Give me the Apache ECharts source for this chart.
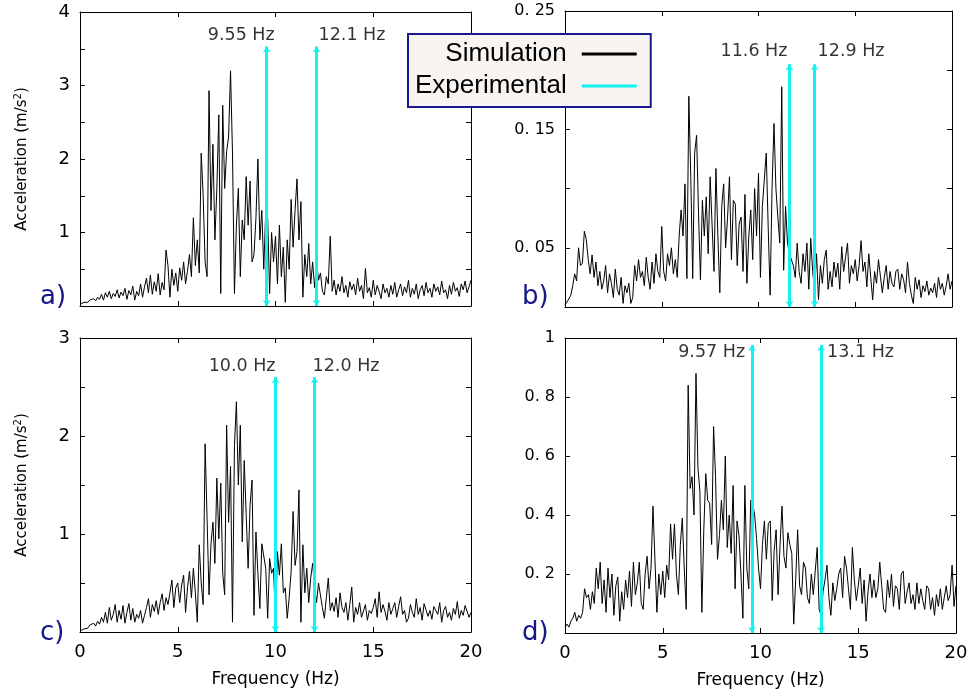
<!DOCTYPE html>
<html><head><meta charset="utf-8">
<script src="https://cdn.jsdelivr.net/npm/echarts@6/dist/echarts.min.js"></script>
<style>html,body{margin:0;padding:0;background:#fff}#c{width:972px;height:694px}</style>
</head><body><div id="c"></div>
<script>
// ---------------- DATA ----------------
const freqStepHz = 0.1; // spectra sampled from 0 to 20 Hz
const simA = [
0.02,0.04,0.05,0.06,0.05,0.08,0.06,0.10,0.07,0.12,
0.09,0.16,0.08,0.18,0.12,0.20,0.10,0.17,0.13,0.22,
0.11,0.19,0.14,0.24,0.09,0.21,0.15,0.27,0.08,0.20,
0.14,0.30,0.12,0.26,0.38,0.18,0.42,0.16,0.33,0.20,
0.44,0.15,0.32,0.22,0.76,0.55,0.12,0.50,0.28,0.45,
0.20,0.52,0.35,0.60,0.30,0.48,0.70,0.40,1.20,0.55,
0.90,0.45,2.08,1.50,0.60,0.40,2.93,1.30,2.20,0.90,
1.60,2.60,0.17,2.73,1.60,2.10,2.30,3.20,2.08,0.17,
1.10,1.60,0.40,1.17,0.90,1.76,1.10,1.70,0.60,0.70,
1.20,2.00,0.90,1.30,0.50,1.29,1.20,0.17,1.00,0.60,
0.95,0.30,1.10,0.40,0.80,0.05,0.90,0.50,1.45,0.80,
1.30,1.73,0.90,1.42,0.12,0.70,0.40,0.85,0.30,0.60,
0.25,0.60,0.35,0.45,0.20,0.15,0.40,0.30,0.95,0.20,
0.35,0.15,0.30,0.20,0.40,0.18,0.28,0.12,0.33,0.22,
0.30,0.15,0.38,0.20,0.28,0.10,0.51,0.18,0.25,0.12,
0.35,0.15,0.28,0.20,0.10,0.30,0.18,0.24,0.12,0.28,
0.16,0.32,0.12,0.22,0.30,0.14,0.26,0.18,0.35,0.12,
0.24,0.16,0.30,0.10,0.22,0.28,0.14,0.32,0.18,0.24,
0.12,0.30,0.20,0.26,0.15,0.34,0.18,0.22,0.10,0.28,
0.16,0.32,0.20,0.25,0.13,0.30,0.22,0.34,0.18,0.26,
0.35];
const simB = [
0.002,0.004,0.003,0.010,0.018,0.028,0.022,0.050,0.035,0.037,
0.064,0.057,0.040,0.028,0.044,0.025,0.038,0.018,0.030,0.015,
0.022,0.035,0.012,0.028,0.020,0.008,0.032,0.015,0.010,0.025,
0.003,0.018,0.012,0.020,0.003,0.008,0.035,0.022,0.040,0.025,
0.030,0.018,0.042,0.025,0.015,0.038,0.020,0.045,0.030,0.025,
0.068,0.030,0.022,0.045,0.035,0.050,0.028,0.040,0.025,0.060,
0.082,0.060,0.104,0.024,0.178,0.110,0.024,0.130,0.145,0.080,
0.023,0.090,0.060,0.093,0.045,0.110,0.070,0.030,0.117,0.060,
0.012,0.085,0.104,0.050,0.075,0.110,0.040,0.090,0.087,0.035,
0.070,0.076,0.030,0.095,0.020,0.060,0.082,0.040,0.100,0.060,
0.113,0.025,0.085,0.085,0.130,0.068,0.010,0.100,0.155,0.100,
0.076,0.054,0.186,0.031,0.085,0.054,0.045,0.046,0.035,0.025,
0.054,0.030,0.020,0.045,0.030,0.054,0.015,0.058,0.030,0.014,
0.045,0.006,0.035,0.020,0.040,0.048,0.015,0.030,0.017,0.038,
0.025,0.037,0.015,0.051,0.030,0.042,0.054,0.020,0.035,0.028,
0.040,0.022,0.035,0.056,0.030,0.038,0.017,0.045,0.025,0.006,
0.030,0.020,0.040,0.026,0.012,0.025,0.035,0.015,0.030,0.020,
0.017,0.030,0.032,0.015,0.028,0.023,0.012,0.038,0.020,0.010,
0.003,0.025,0.015,0.023,0.008,0.018,0.013,0.022,0.010,0.016,
0.012,0.020,0.008,0.025,0.015,0.020,0.010,0.018,0.028,0.015,
0.022];
const simC = [
0.01,0.02,0.03,0.05,0.04,0.07,0.05,0.09,0.06,0.11,
0.08,0.15,0.10,0.20,0.09,0.25,0.12,0.18,0.28,0.10,
0.22,0.13,0.27,0.09,0.20,0.29,0.12,0.24,0.10,0.18,
0.14,0.22,0.09,0.17,0.25,0.34,0.15,0.28,0.21,0.32,
0.18,0.30,0.39,0.22,0.35,0.28,0.40,0.53,0.25,0.45,
0.50,0.30,0.48,0.58,0.20,0.45,0.62,0.35,0.65,0.40,
0.10,0.89,0.50,0.28,1.92,1.16,0.38,0.90,1.12,0.70,
1.57,0.95,1.52,0.60,0.38,2.11,1.12,1.69,0.10,1.90,
2.35,1.50,2.11,0.92,1.75,1.20,0.65,1.30,1.55,0.17,
1.02,0.60,0.24,0.90,0.92,0.65,0.14,0.75,0.60,0.65,
0.10,0.82,0.58,0.90,0.40,0.45,0.14,0.35,0.62,1.23,
0.68,0.82,1.45,0.10,0.89,0.40,0.65,0.30,0.55,0.70,
0.45,0.30,0.50,0.50,0.25,0.14,0.35,0.55,0.22,0.30,
0.21,0.35,0.15,0.40,0.25,0.20,0.30,0.12,0.28,0.46,
0.10,0.25,0.18,0.30,0.15,0.17,0.28,0.12,0.22,0.19,
0.25,0.34,0.15,0.41,0.20,0.28,0.21,0.12,0.30,0.18,
0.24,0.30,0.15,0.26,0.36,0.18,0.22,0.10,0.14,0.28,
0.20,0.15,0.34,0.18,0.25,0.12,0.29,0.27,0.16,0.22,
0.13,0.26,0.24,0.18,0.30,0.10,0.22,0.26,0.15,0.20,
0.12,0.24,0.18,0.31,0.14,0.22,0.17,0.27,0.28,0.15,
0.20];
const simD = [
0.02,0.03,0.02,0.04,0.05,0.07,0.04,0.06,0.05,0.07,
0.15,0.12,0.13,0.08,0.14,0.10,0.22,0.15,0.24,0.10,
0.18,0.07,0.22,0.12,0.20,0.06,0.16,0.19,0.04,0.14,
0.08,0.18,0.12,0.21,0.09,0.24,0.13,0.17,0.24,0.10,
0.08,0.20,0.26,0.15,0.22,0.43,0.25,0.07,0.20,0.13,
0.21,0.12,0.23,0.18,0.37,0.25,0.37,0.20,0.13,0.30,
0.39,0.22,0.08,0.84,0.49,0.53,0.40,0.88,0.56,0.48,
0.07,0.35,0.54,0.45,0.44,0.30,0.70,0.53,0.25,0.33,
0.45,0.35,0.60,0.29,0.40,0.27,0.50,0.15,0.38,0.33,
0.20,0.05,0.50,0.22,0.15,0.45,0.44,0.40,0.32,0.22,
0.15,0.30,0.38,0.25,0.37,0.38,0.11,0.28,0.35,0.13,
0.30,0.43,0.26,0.22,0.34,0.30,0.27,0.03,0.18,0.35,
0.16,0.13,0.24,0.22,0.12,0.10,0.20,0.13,0.21,0.29,
0.08,0.06,0.14,0.18,0.23,0.12,0.06,0.17,0.11,0.15,
0.20,0.22,0.12,0.26,0.22,0.15,0.08,0.29,0.18,0.11,
0.16,0.22,0.10,0.18,0.04,0.14,0.20,0.12,0.18,0.12,
0.15,0.24,0.16,0.08,0.07,0.18,0.12,0.20,0.09,0.16,
0.15,0.08,0.20,0.21,0.10,0.14,0.17,0.10,0.13,0.08,
0.17,0.10,0.15,0.11,0.08,0.16,0.15,0.08,0.12,0.06,
0.13,0.09,0.15,0.08,0.12,0.16,0.11,0.13,0.23,0.09,
0.16];

const expFreqA = [9.55, 12.1];
const expFreqB = [11.6, 12.9];
const expFreqC = [10.0, 12.0];
const expFreqD = [9.57, 13.1];
const expLabelA = ['9.55 Hz', '12.1 Hz'];
const expLabelB = ['11.6 Hz', '12.9 Hz'];
const expLabelC = ['10.0 Hz', '12.0 Hz'];
const expLabelD = ['9.57 Hz', '13.1 Hz'];
const expTop = [3.53, 0.205, 2.6, 0.976];   // height reached by the arrows in each panel

const xTickVals = [0, 5, 10, 15, 20];
const xTickLabels = ['0', '5', '10', '15', '20'];
const yTickValsA = [1, 2, 3, 4];           const yTickLabelsA = ['1', '2', '3', '4'];
const yTickValsB = [0.05, 0.15, 0.25];     const yTickLabelsB = ['0. 05', '0. 15', '0. 25'];
const yTickValsC = [1, 2, 3];              const yTickLabelsC = ['1', '2', '3'];
const yTickValsD = [0.2, 0.4, 0.6, 0.8, 1];const yTickLabelsD = ['0. 2', '0. 4', '0. 6', '0. 8', '1'];
const yRange = [[0, 4, 0.5], [0, 0.25, 0.05], [0, 3, 0.5], [0, 1, 0.2]];
const panelLetters = ['a)', 'b)', 'c)', 'd)'];

// ---------------- LAYOUT / STYLE ----------------
const FONT = 'DejaVu Sans';
const CYAN = '#12f2f2';
const grids = [
  {left: 80,  top: 12,  width: 391, height: 294},
  {left: 565, top: 11,  width: 387, height: 296},
  {left: 80,  top: 338, width: 391, height: 294},
  {left: 565, top: 338, width: 391, height: 295}
];
const yLabelSize = [18, 16, 18, 16];
const labelLayout = [
  [{align: 'right', offset: [8, -11]},  {align: 'left', offset: [2, -11]}],
  [{align: 'right', offset: [-2, -13]}, {align: 'left', offset: [3, -13]}],
  [{align: 'right', offset: [0, -11]},  {align: 'left', offset: [-2, -11]}],
  [{align: 'right', offset: [-7, 7]},   {align: 'left', offset: [6, 7]}]
];
const letterPos = [[40, 297], [522, 297], [40, 633], [522, 633]];

const sims = [simA, simB, simC, simD];
const expFreqs = [expFreqA, expFreqB, expFreqC, expFreqD];
const expLabels = [expLabelA, expLabelB, expLabelC, expLabelD];
const yTickVals = [yTickValsA, yTickValsB, yTickValsC, yTickValsD];
const yTickLabels = [yTickLabelsA, yTickLabelsB, yTickLabelsC, yTickLabelsD];

function lookup(vals, labels, v) {
  for (let i = 0; i < vals.length; i++) if (Math.abs(vals[i] - v) < 1e-9) return labels[i];
  return '';
}

const xAxes = [], yAxes = [], series = [];
const tickStyle = {show: true, inside: true, length: 5, lineStyle: {color: '#000', width: 1}};
const lineStyleAx = {show: true, onZero: false, lineStyle: {color: '#000', width: 1}};

for (let i = 0; i < 4; i++) {
  const bottomRow = i >= 2;
  xAxes.push({
    type: 'value', gridIndex: i, position: 'bottom', min: 0, max: 20, interval: 5,
    axisLine: lineStyleAx, axisTick: tickStyle, splitLine: {show: false},
    axisLabel: {show: bottomRow, margin: 11, fontFamily: FONT, fontSize: 18, color: '#000',
      formatter: v => lookup(xTickVals, xTickLabels, v)},
    name: bottomRow ? 'Frequency (Hz)' : '', nameLocation: 'middle', nameGap: 39,
    nameTextStyle: {fontFamily: FONT, fontSize: 17, color: '#000'}
  });
  xAxes.push({
    type: 'value', gridIndex: i, position: 'top', min: 0, max: 20, interval: 5,
    axisLine: lineStyleAx, axisTick: tickStyle, splitLine: {show: false}, axisLabel: {show: false}
  });
  const leftCol = (i % 2) === 0;
  yAxes.push({
    type: 'value', gridIndex: i, position: 'left', min: yRange[i][0], max: yRange[i][1], interval: yRange[i][2],
    axisLine: lineStyleAx, axisTick: tickStyle, splitLine: {show: false},
    axisLabel: {show: true, margin: 10, showMaxLabel: true, fontFamily: FONT, fontSize: yLabelSize[i], color: '#000',
      formatter: (v) => lookup(yTickVals[i], yTickLabels[i], v)},
    name: leftCol ? 'Acceleration (m/s{sup|2})' : '', nameLocation: 'middle', nameGap: 49, nameRotate: 90,
    nameTextStyle: {fontFamily: FONT, fontSize: 15, color: '#000',
      rich: {sup: {fontFamily: FONT, fontSize: 10, verticalAlign: 'top', padding: [0, 0, 8, 0], color: '#000'}}}
  });
  yAxes.push({
    type: 'value', gridIndex: i, position: 'right', min: yRange[i][0], max: yRange[i][1], interval: yRange[i][2],
    axisLine: lineStyleAx, axisTick: tickStyle, splitLine: {show: false}, axisLabel: {show: false}
  });

  series.push({
    name: 'Simulation', type: 'line', xAxisIndex: 2 * i, yAxisIndex: 2 * i,
    data: sims[i].map((v, k) => [k * freqStepHz, v]),
    showSymbol: false, symbol: 'none', color: '#000',
    lineStyle: {color: '#000', width: 1}, z: 2, silent: true
  });
  series.push({
    name: 'Experimental', type: 'line', xAxisIndex: 2 * i, yAxisIndex: 2 * i,
    data: [], color: CYAN, itemStyle: {color: CYAN}, lineStyle: {color: CYAN, width: 3},
    markLine: {
      silent: true, symbol: ['arrow', 'arrow'], symbolSize: [6, 6], animation: false,
      lineStyle: {color: CYAN, width: 3, type: 'solid'}, label: {show: false},
      data: expFreqs[i].map(f => [{coord: [f, 0]}, {coord: [f, expTop[i]]}])
    },
    z: 3
  });
  series.push({
    name: 'freq-labels', type: 'scatter', xAxisIndex: 2 * i, yAxisIndex: 2 * i,
    symbolSize: 0, silent: true, z: 4,
    data: expFreqs[i].map((f, j) => ({
      value: [f, expTop[i]],
      label: Object.assign({show: true, formatter: expLabels[i][j], position: [0, 0], verticalAlign: 'middle',
        fontFamily: FONT, fontSize: 17.5, color: '#000'}, labelLayout[i][j])
    }))
  });
}

const graphics = panelLetters.map((t, i) => ({
  type: 'text', x: letterPos[i][0], y: letterPos[i][1],
  style: {text: t, font: '26px "DejaVu Sans"', fill: '#15158a', textVerticalAlign: 'middle', verticalAlign: 'middle'},
  z: 10
}));

const chart = echarts.init(document.getElementById('c'), null, {renderer: 'canvas'});
chart.setOption({
  animation: false,
  backgroundColor: '#fff',
  grid: grids.map(g => Object.assign({containLabel: false}, g)),
  xAxis: xAxes, yAxis: yAxes, series: series,
  legend: {
    data: ['Simulation', 'Experimental'], orient: 'vertical', align: 'right',
    left: 408, top: 34, backgroundColor: '#f8f4f1', borderColor: '#1a1a8c', borderWidth: 2, borderRadius: 0,
    padding: [6, 14, 7, 7], itemGap: 4, itemWidth: 55, itemHeight: 3, icon: 'rect',
    selectedMode: false, z: 20,
    formatter: name => '{n|' + name + '}',
    textStyle: {fontFamily: 'Liberation Sans', fontSize: 26, color: '#000', lineHeight: 28,
      rich: {n: {fontFamily: 'Liberation Sans', fontSize: 26, color: '#000', lineHeight: 28, padding: [0, 10, 0, 0]}}}
  },
  graphic: graphics
});
</script>
</body></html>
